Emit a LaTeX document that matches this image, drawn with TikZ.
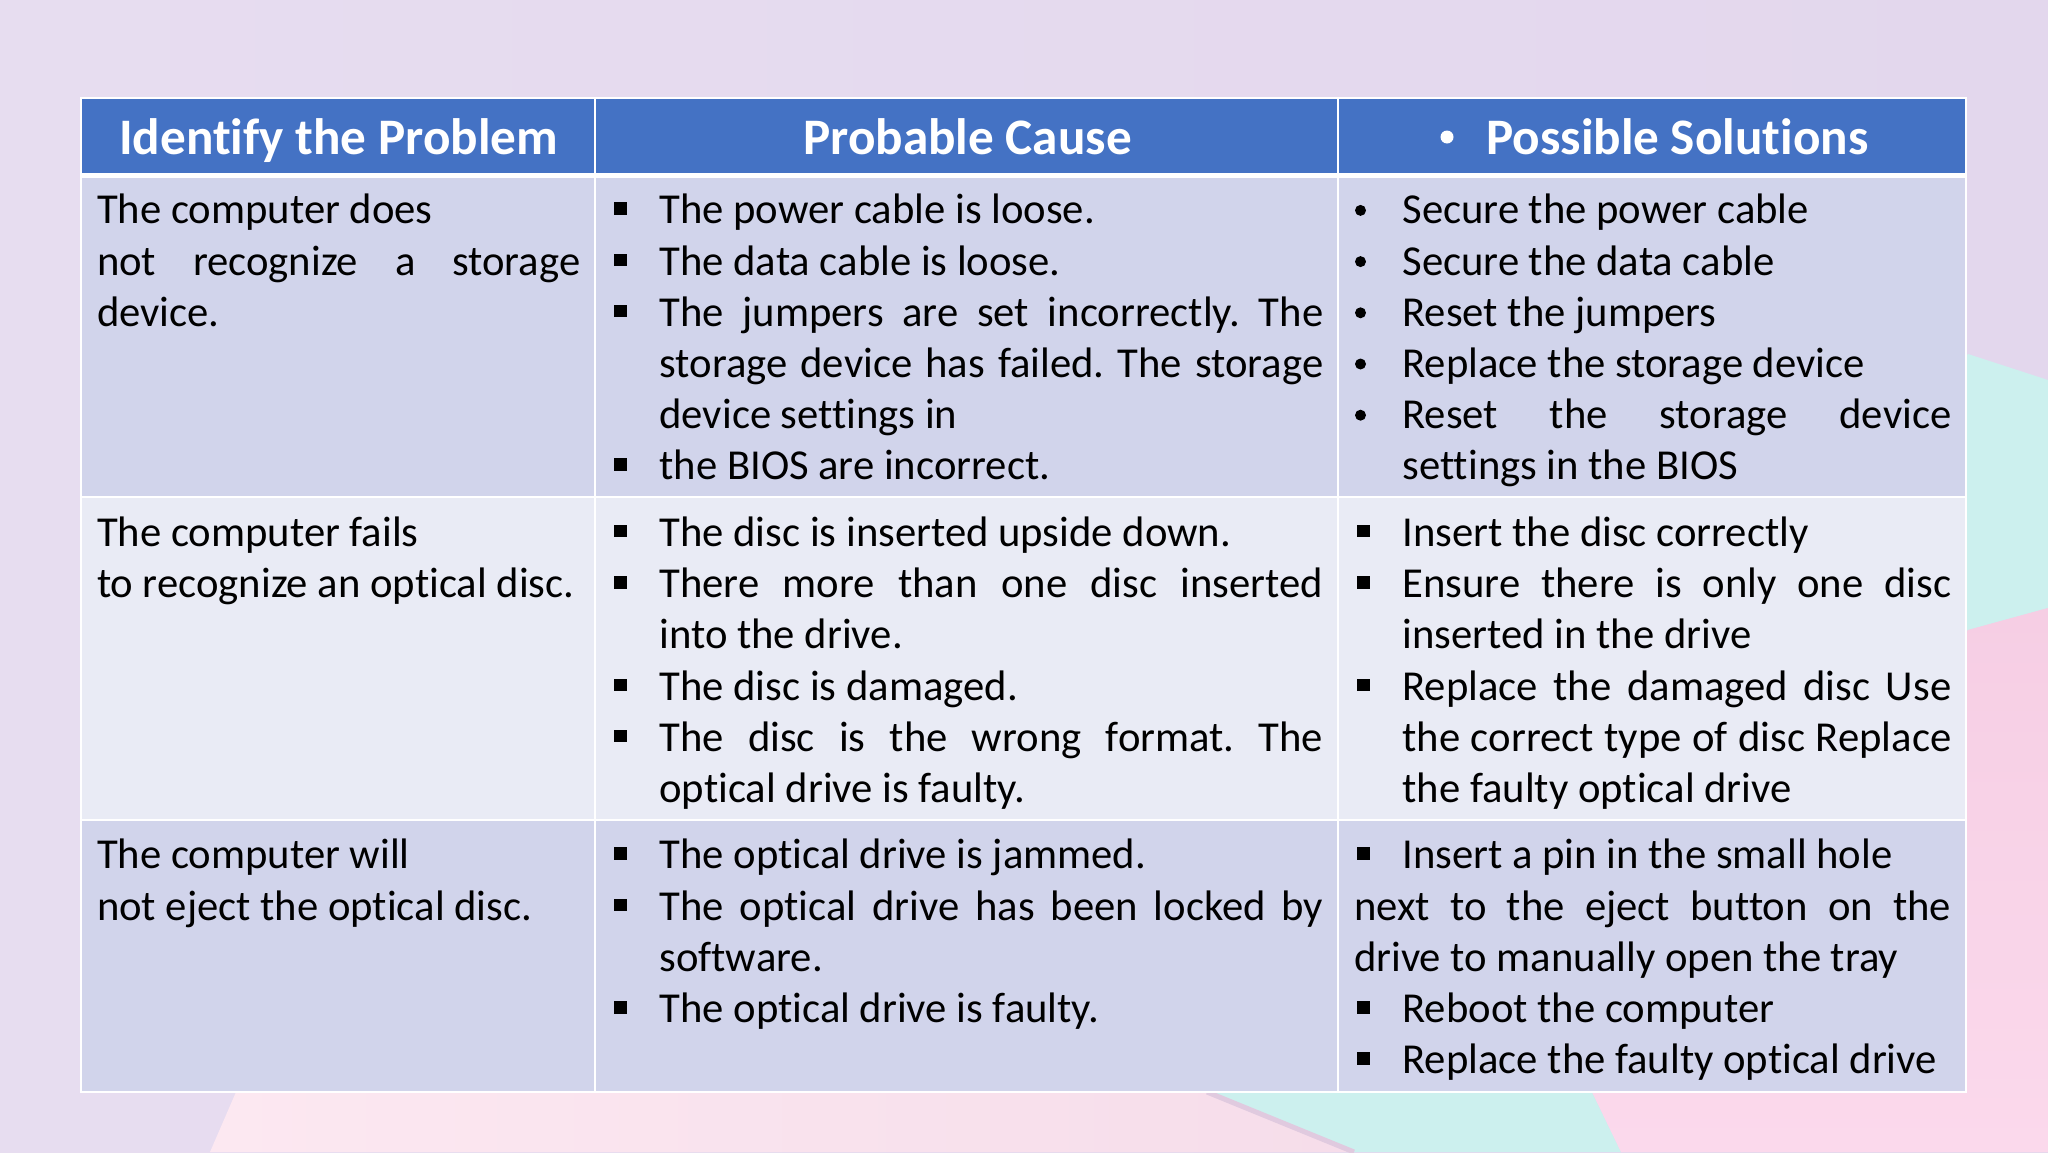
\documentclass[tikz,border=0pt]{standalone}
\usepackage{fontspec}
\setmainfont[Ligatures=NoCommon]{Carlito}
\frenchspacing
\definecolor{headblue}{HTML}{4472C4}
\definecolor{bandA}{HTML}{D1D4EB}
\definecolor{bandB}{HTML}{E9EBF5}
\definecolor{lilacA}{HTML}{E7DDF0}
\definecolor{lilacB}{HTML}{DDCFE9}
\definecolor{lilacC}{HTML}{E3D7ED}
\definecolor{paleteal}{HTML}{CCF0EE}
\definecolor{pinkA}{HTML}{F6CEE4}
\definecolor{pinkB}{HTML}{FBD9EC}
\definecolor{blushA}{HTML}{FCE8F1}
\definecolor{blushB}{HTML}{F6DDEA}
\definecolor{mauve}{HTML}{E0CADF}
\newcommand{\sqitem}[1]{\par\noindent\hangindent=48.5pt\hangafter=0\llap{\makebox[48.5pt][l]{\hspace{3pt}\rule[9pt]{13pt}{12.5pt}}}#1\par}
\newcommand{\dotitem}[1]{\par\noindent\hangindent=48.5pt\hangafter=0\llap{\makebox[48.5pt][l]{\hspace{1pt}\raisebox{8pt}{\tikz\fill (0,0) circle (5.5pt);}}}#1\par}
\tikzset{
  cell/.style={minimum width=#1, text width=#1-30.7pt, inner xsep=16pt, inner ysep=0pt, outer sep=0pt, align=justify, anchor=north west, font=\fontsize{42.67}{51.2}\selectfont},
  headcell/.style={anchor=base west, font=\fontsize{51.2}{60}\selectfont\bfseries, text=white, inner sep=0pt},
  rule/.style={draw=white, line width=2.5pt}
}
\begin{document}
\begin{tikzpicture}[x=1pt,y=-1pt]
  \useasboundingbox (0,0) rectangle (2048,1152);
  % background
  \shade [left color=lilacA, middle color=lilacB, right color=lilacC] (0,0) rectangle (2048,1152);
  \fill [paleteal] (1968,354) -- (2048,380) -- (2048,608) -- (1968,630) -- (1592,1092) -- (1621,1152) -- (1354,1152) -- (1207,1092) -- cycle;
  \shade [top color=pinkA, bottom color=pinkB] (1968,630) -- (2048,608) -- (2048,1152) -- (1621,1152) -- (1592,1092) -- cycle;
  \shade [left color=blushA, right color=blushB] (236,1092) -- (1207,1092) -- (1354,1152) -- (210,1152) -- cycle;
  \draw [mauve, line width=5pt] (1207,1092) -- (1354,1152);
  % cell fills
  \fill [headblue] (81,98) rectangle (1966,173);
  \fill [bandA] (81,178) rectangle (1966,497);
  \fill [bandB] (81,497) rectangle (1966,820);
  \fill [bandA] (81,820) rectangle (1966,1092);
  % rules
  \coordinate (tl) at (81,98);
  \coordinate (br) at (1966,1092);
  \draw [rule] (tl) rectangle (br);
  \draw [rule, line width=5pt] (81,175.5) -- (1966,175.5);
  \draw [rule] (81,497) -- (1966,497);
  \draw [rule] (81,820) -- (1966,820);
  \draw [rule] (595,98) -- (595,1092);
  \draw [rule] (1338,98) -- (1338,1092);
  % header
  \node [headcell] (headA) at (119,154) {Identify the Problem};
  \node [headcell] (headB) at (803,154) {Probable Cause};
  \node [headcell] (headC) at (1486,154) {Possible Solutions};
  \fill [white] (1447,137) circle (6.5pt);
  % first column
  \node [cell=514pt] (probA) at (81,188) {\strut The computer does\newline not recognize a storage\linebreak device.};
  \node [cell=514pt] (probB) at (81,510.5) {\strut The computer fails\newline to recognize an optical disc.};
  \node [cell=514pt] (probC) at (81,833) {\strut The computer will\newline not eject the optical disc.};
  % second column
  \node [cell=743pt] (causeA) at (595,172.7) {%
    \sqitem{The power cable is loose.}
    \sqitem{The data cable is loose.}
    \sqitem{The jumpers are set incorrectly. The\linebreak storage device has failed. The storage\linebreak device settings in}
    \sqitem{the BIOS are incorrect.}};
  \node [cell=743pt] (causeB) at (595,495.2) {%
    \sqitem{The disc is inserted upside down.}
    \sqitem{There more than one disc inserted\linebreak into the drive.}
    \sqitem{The disc is damaged.}
    \sqitem{The disc is the wrong format. The\linebreak optical drive is faulty.}};
  \node [cell=743pt] (causeC) at (595,817.7) {%
    \sqitem{The optical drive is jammed.}
    \sqitem{The optical drive has been locked by\linebreak software.}
    \sqitem{The optical drive is faulty.}};
  % third column
  \node [cell=628pt] (fixA) at (1338,172.7) {%
    \dotitem{Secure the power cable}
    \dotitem{Secure the data cable}
    \dotitem{Reset the jumpers}
    \dotitem{Replace the storage device}
    \dotitem{Reset the storage device\linebreak settings in the BIOS}};
  \node [cell=628pt] (fixB) at (1338,495.2) {%
    \sqitem{Insert the disc correctly}
    \sqitem{Ensure there is only one disc\linebreak inserted in the drive}
    \sqitem{Replace the damaged disc Use\linebreak the correct type of disc Replace\linebreak the faulty optical drive}};
  \node [cell=628pt] (fixC) at (1338,817.7) {%
    \sqitem{Insert a pin in the small hole}
    \par\noindent next to the eject button on the\linebreak drive to manually open the tray\par
    \sqitem{Reboot the computer}
    \sqitem{Replace the faulty optical drive}};
\end{tikzpicture}
\end{document}
